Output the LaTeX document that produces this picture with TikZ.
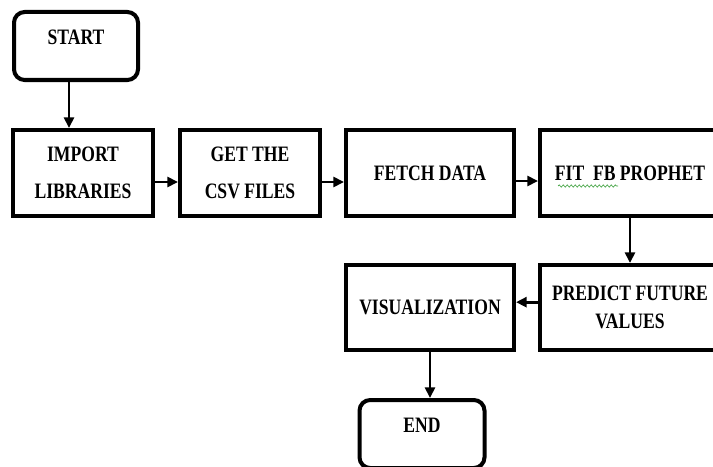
\documentclass[tikz,border=0pt]{standalone}
\usepackage{fontspec}
\setmainfont{Liberation Serif}[FakeStretch=0.8]
\usepackage{tikz}
\usetikzlibrary{arrows.meta,positioning,calc,decorations.pathmorphing}
\definecolor{inkblack}{RGB}{0, 0, 0}
\definecolor{spellgreen}{RGB}{60, 160, 60}

\tikzset{
    procbox/.style={draw=inkblack, line width=3pt, align=center, minimum height=64.5pt, inner sep=2pt,
        font=\bfseries\fontsize{16.5}{21}\selectfont},
    termbox/.style={procbox, rounded corners=8pt, minimum width=93pt, minimum height=51pt,
        text height=11pt, text depth=13.5pt},
    flowarrow/.style={-{Triangle[length=8pt,width=7.5pt]}, line width=2.2pt, draw=inkblack}
}

\begin{document}
\begin{tikzpicture}[x=0.75pt, y=-0.75pt]
    \useasboundingbox (0,0) rectangle (713,467);

    % Terminals
    \node[termbox] (start) at (76,46) {START};
    \node[termbox, minimum width=93.75pt] (finish) at (422,434) {END};

    % Upper row
    \node[procbox, minimum width=105pt] (import) at (83,173) {IMPORT\\[6.75pt]LIBRARIES};
    \node[procbox, minimum width=105pt] (getcsv) at (250,173) {GET THE\\[6.75pt]CSV FILES};
    \node[procbox, minimum width=126pt] (fetch) at (430,173) {FETCH DATA};
    \node[procbox, minimum width=135pt] (prophet) at (630,173) {FIT\ \ FB PROPHET};
    \draw[spellgreen, line width=0.5pt, decorate, decoration={snake, amplitude=0.8pt, segment length=3pt}]
        ([xshift=-54pt, yshift=-9.75pt]prophet.center) -- ([xshift=-9pt, yshift=-9.75pt]prophet.center);

    % Lower row
    \node[procbox, minimum width=135pt, minimum height=63.75pt] (predict) at (630,307.5) {PREDICT FUTURE\\VALUES};
    \node[procbox, minimum width=126pt, minimum height=63.75pt] (visual) at (430,307.5) {VISUALIZATION};

    % Connectors
    \draw[flowarrow] ([xshift=-5.25pt]start.south) -- ([xshift=-5.25pt]start.south |- import.north);
    \draw[flowarrow] ([yshift=-6.75pt]import.east) -- ([yshift=-6.75pt]import.east -| getcsv.west);
    \draw[flowarrow] ([yshift=-6.75pt]getcsv.east) -- ([yshift=-6.75pt]getcsv.east -| fetch.west);
    \draw[flowarrow] ([yshift=-6pt]fetch.east) -- ([yshift=-6pt]fetch.east -| prophet.west);
    \draw[flowarrow] (prophet.south) -- (predict.north);
    \draw[flowarrow] ([yshift=4pt]predict.west) -- ([yshift=4pt]predict.west -| visual.east);
    \draw[flowarrow] (visual.south) -- (visual.south |- finish.north);
\end{tikzpicture}
\end{document}
